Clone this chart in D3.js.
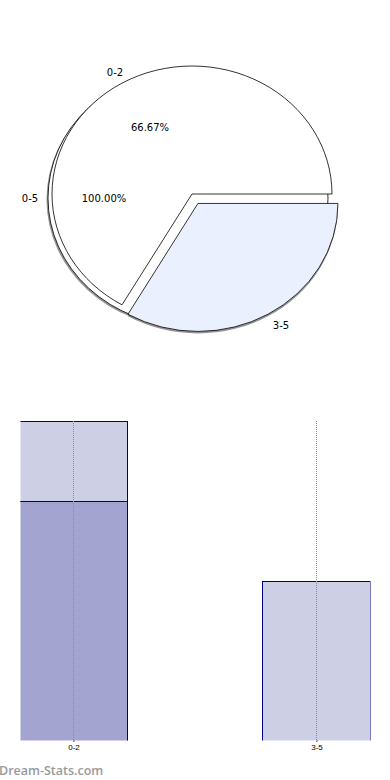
<html>
<head>
<meta charset="utf-8">
<script src="https://cdnjs.cloudflare.com/ajax/libs/d3/7.8.5/d3.min.js"></script>
<style>
	body { margin: 0; background: #fff; }
	svg { display: block; font-family: "DejaVu Sans", sans-serif; }
</style>
</head>
<body>
<div id="chart"></div>
<script>

// pie data
var pieLabels = ["0-2", "3-5"];
var pieCounts = [4, 2];
var totalLabel = "0-5";

// bar data
var barCats = ["0-2", "3-5"];
var barDark = [3, 0];
var barLight = [1, 2];
var yMax = 4;

var W = 390, H = 780;
var svg = d3.select("#chart").append("svg").attr("width", W).attr("height", H);

// ---------- pie ----------
var cx = 192, cy = 194, rx = 140, ry = 128;
var sy = ry / rx;
var total = d3.sum(pieCounts);
var pie = d3.pie().sort(null).startAngle(Math.PI / 2).endAngle(Math.PI / 2 - 2 * Math.PI);
var slices = pie(pieCounts);
var arc = d3.arc().innerRadius(0).outerRadius(rx);

// direction (screen coords) of a d3 angle
function dir(a) { return [Math.sin(a), -Math.cos(a)]; }
function mid(d) { return (d.startAngle + d.endAngle) / 2; }

var explode = [0, 0.085];
var fullShift = [-4, 4];

var fullSlice = { startAngle: Math.PI / 2, endAngle: Math.PI / 2 - 2 * Math.PI };

function sliceOffset(i) {
	var m = dir(mid(slices[i]));
	return [m[0] * explode[i] * rx, m[1] * explode[i] * ry];
}

var pg = svg.append("g");

function drawPiece(d, ox, oy, fill, stroke, op) {
	pg.append("g")
		.attr("transform", "translate(" + (cx + ox) + "," + (cy + oy) + ") scale(1," + sy + ")")
		.append("path")
		.attr("d", arc(d))
		.attr("fill", fill)
		.attr("fill-opacity", op)
		.attr("stroke", stroke)
		.attr("stroke-width", 0.8)
		.attr("vector-effect", "non-scaling-stroke");
}

// shadows
drawPiece(fullSlice, fullShift[0] - 1.5, fullShift[1] + 1.5, "#666", "none", 0.7);
var o1 = sliceOffset(1);
drawPiece(slices[1], o1[0], o1[1] + 2, "#666", "none", 0.7);

// full (0-5) slice, then 0-2, then exploded 3-5
drawPiece(fullSlice, fullShift[0], fullShift[1], "#fff", "#000", 1);
var o0 = sliceOffset(0);
drawPiece(slices[0], o0[0], o0[1], "#fff", "#000", 1);
drawPiece(slices[1], o1[0], o1[1], "#eaf0fd", "#000", 1);

// labels
function place(a, r, off) {
	var m = dir(a);
	return [cx + off[0] + m[0] * r * rx, cy + off[1] + m[1] * r * ry];
}
var lab = pg.append("g").attr("font-size", 10).attr("fill", "#000")
	.attr("text-anchor", "middle").attr("dominant-baseline", "central");

var p;
p = place(-Math.PI / 2, 1.1, fullShift);
lab.append("text").attr("x", p[0] - 4).attr("y", p[1]).text(totalLabel);
p = place(-Math.PI / 2, 0.6, fullShift);
lab.append("text").attr("x", p[0]).attr("y", p[1]).text(d3.format(".2f")(100) + "%");

slices.forEach(function(d, i) {
	var off = sliceOffset(i);
	var q = place(mid(d), 1.1, off);
	lab.append("text").attr("x", q[0] + (i == 1 ? 6 : 0)).attr("y", q[1]).text(pieLabels[i]);
});
p = place(mid(slices[0]), 0.6, [0, 0]);
lab.append("text").attr("x", p[0]).attr("y", p[1]).text(d3.format(".2f")(pieCounts[0] / total * 100) + "%");

// ---------- bars ----------
var pLeft = 19, pRight = 370, pTop = 421, pBottom = 740;
var x = d3.scalePoint().domain(barCats).range([pLeft, pRight]).padding(0.222);
var bw = x.step() * 0.444;
var y = d3.scaleLinear().domain([0, yMax]).range([pBottom, pTop]);

svg.append("clipPath").attr("id", "plot")
	.append("rect").attr("x", pLeft + 1).attr("y", pTop - 2)
	.attr("width", pRight - pLeft - 1).attr("height", pBottom - pTop + 2);

var bg = svg.append("g").attr("clip-path", "url(#plot)").attr("transform", "translate(0.5,0.5)");

var rows = barCats.map(function(c, i) { return { c: c, dark: barDark[i], light: barLight[i] }; });

bg.selectAll("rect.dark").data(rows.filter(function(d) { return d.dark > 0; })).enter()
	.append("rect").attr("class", "dark")
	.attr("x", function(d) { return Math.round(x(d.c) - bw / 2); })
	.attr("y", function(d) { return Math.round(y(d.dark)); })
	.attr("width", Math.round(bw))
	.attr("height", function(d) { return pBottom - Math.round(y(d.dark)) + 2; })
	.attr("fill", "#a3a5d0").attr("stroke", "#000080").attr("stroke-width", 1);

bg.selectAll("rect.light").data(rows).enter()
	.append("rect").attr("class", "light")
	.attr("x", function(d) { return Math.round(x(d.c) - bw / 2); })
	.attr("y", function(d) { return Math.round(y(d.dark + d.light)); })
	.attr("width", Math.round(bw))
	.attr("height", function(d) { return Math.round(y(d.dark)) - Math.round(y(d.dark + d.light)) + (d.dark > 0 ? 0 : 2); })
	.attr("fill", "#cdcfe5").attr("stroke", "#000080").attr("stroke-width", 1);

// dotted grid
svg.append("g").selectAll("line").data(barCats).enter()
	.append("line")
	.attr("x1", function(d) { return Math.round(x(d)) + 0.5; })
	.attr("x2", function(d) { return Math.round(x(d)) + 0.5; })
	.attr("y1", pTop).attr("y2", pBottom + 2)
	.attr("stroke", "#8c8c8c").attr("stroke-width", 1).attr("stroke-dasharray", "1,1");

var xa = svg.append("g").attr("transform", "translate(0.5," + pBottom + ")")
	.call(d3.axisBottom(x).tickSize(2).tickPadding(2));
xa.select(".domain").remove();
xa.selectAll(".tick line").attr("stroke", "#777");
xa.selectAll("text").attr("font-size", 8).attr("fill", "#000")
	.attr("font-family", "'Liberation Sans', sans-serif");

// watermark
svg.append("text").attr("x", -1).attr("y", 775)
	.attr("font-family", "'Open Sans', sans-serif").attr("font-size", 12.5).attr("font-weight", 600)
	.attr("fill", "#999").text("Dream-Stats.com");

</script>
</body>
</html>
